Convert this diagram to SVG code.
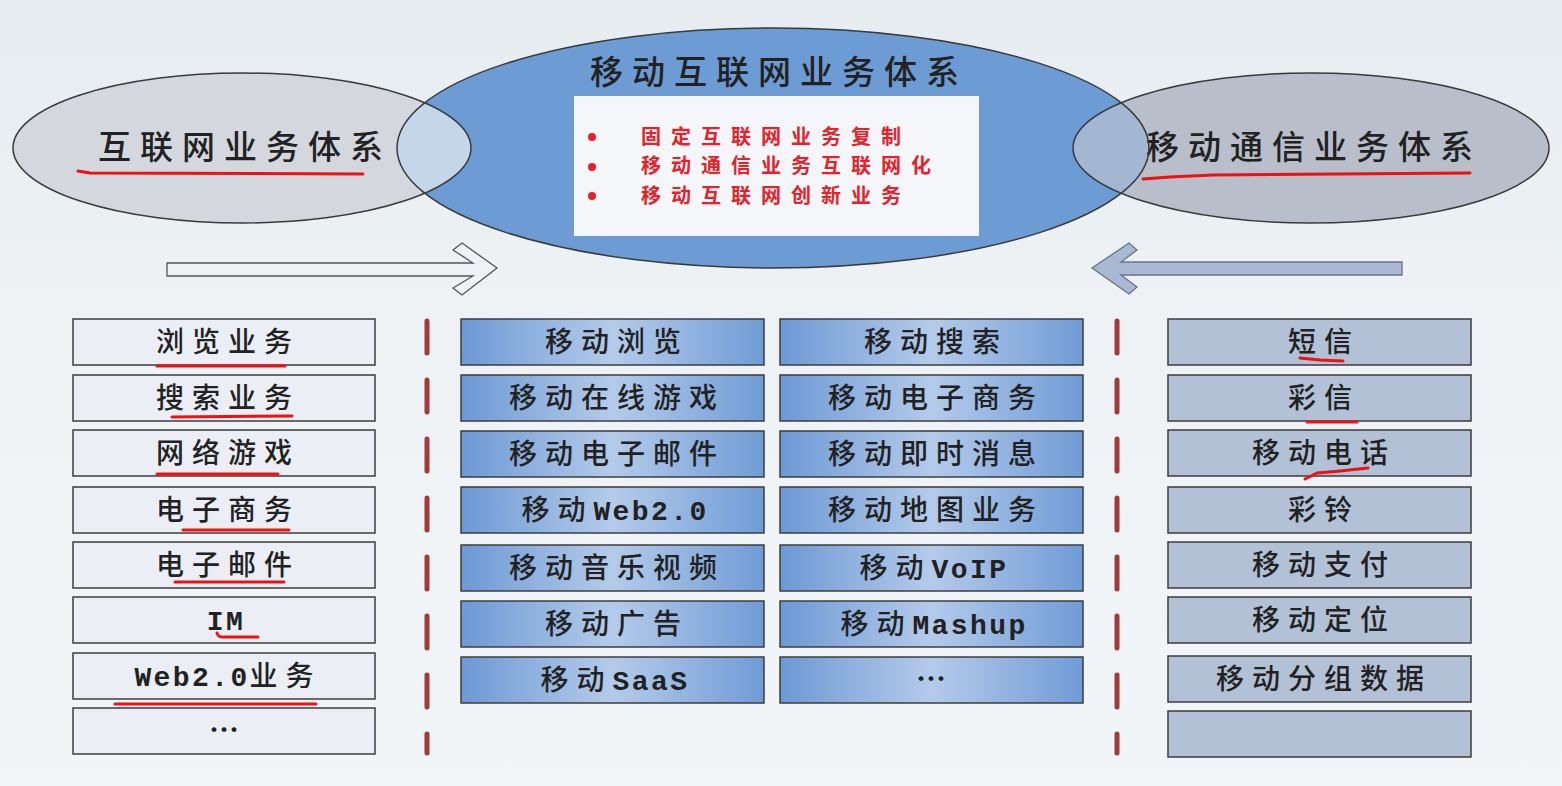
<svg xmlns="http://www.w3.org/2000/svg" width="1562" height="786" viewBox="0 0 1562 786">
<defs>
<linearGradient id="bg" x1="0" y1="0" x2="0" y2="1">
<stop offset="0" stop-color="#e6ecf0"/>
<stop offset="0.4" stop-color="#eef2f5"/>
<stop offset="1" stop-color="#f3f6f8"/>
</linearGradient>
<linearGradient id="mid" x1="0" y1="0" x2="1" y2="0">
<stop offset="0" stop-color="#6d99d4"/>
<stop offset="0.5" stop-color="#b4cbea"/>
<stop offset="1" stop-color="#709cd6"/>
</linearGradient>
<clipPath id="cC"><ellipse cx="773" cy="148" rx="376" ry="120"/></clipPath>
<style>
.t{font-family:"Noto Sans CJK SC","Noto Sans",sans-serif;fill:#222;text-anchor:middle;font-weight:500}
.bx{font-size:28px;letter-spacing:8px}
.lat{font-family:"Liberation Mono",monospace;font-weight:bold;letter-spacing:2.4px}
.dots{font-size:30px;letter-spacing:0;font-weight:bold}
.lb{fill:#eceef6;stroke:#3c3c3c;stroke-width:1.5}
.mb{fill:url(#mid);stroke:#3c3c3c;stroke-width:1.5}
.rb{fill:#b3c1d6;stroke:#3c3c3c;stroke-width:1.5}
.ul{fill:none;stroke:#ee1111;stroke-width:3;stroke-linecap:round;stroke-linejoin:round}
.ttl{font-size:33px;letter-spacing:9px}
.red{font-size:20px;letter-spacing:10px;fill:#e5222a;text-anchor:start;font-weight:bold}
.dash{stroke:#a23a3a;stroke-width:5;stroke-dasharray:32 27;stroke-linecap:round;fill:none}
.es{fill:none;stroke:#3a3a3a;stroke-width:1.5}
</style>
</defs>
<rect width="1562" height="786" fill="url(#bg)"/>

<g id="ellipses">
<g id="center-system">
<ellipse cx="773" cy="148" rx="376" ry="120" fill="#6d9bd3"/>
</g>
<g id="internet-system">
<ellipse cx="242" cy="148" rx="229" ry="75" fill="#d4d7dd"/>
<ellipse cx="242" cy="148" rx="229" ry="75" fill="#c6d6ea" clip-path="url(#cC)"/>
<ellipse cx="242" cy="148" rx="229" ry="75" class="es"/>
<text class="t ttl" x="245" y="159">互联网业务体系</text>
</g>
<g id="mobile-comm-system">
<ellipse cx="1311" cy="148" rx="238" ry="75" fill="#b8bfcb"/>
<ellipse cx="1311" cy="148" rx="238" ry="75" fill="#a3b6d2" clip-path="url(#cC)"/>
<ellipse cx="1311" cy="148" rx="238" ry="75" class="es"/>
<text class="t ttl" x="1314" y="159">移动通信业务体系</text>
</g>
<g id="center-outline">
<ellipse cx="773" cy="148" rx="376" ry="120" class="es"/>
<text class="t ttl" x="779" y="84">移动互联网业务体系</text>
<rect x="574" y="96" width="405" height="140" fill="#f4f6fa"/>
<circle cx="592" cy="137" r="4" fill="#e5222a"/>
<circle cx="592" cy="167" r="4" fill="#e5222a"/>
<circle cx="592" cy="196" r="4" fill="#e5222a"/>
<text class="t red" x="641" y="143.5">固定互联网业务复制</text>
<text class="t red" x="641" y="173">移动通信业务互联网化</text>
<text class="t red" x="641" y="202.5">移动互联网创新业务</text>
</g>
</g>

<g id="connectors">
<polygon points="167,263 473,263 453,250 462,243 497,268 462,295 453,288 473,276 167,276" fill="#eef2f7" stroke="#555" stroke-width="1.3"/>
<polygon points="1402,262 1121,262 1137,250 1129,243 1092,268 1129,294 1137,287 1121,275 1402,275" fill="#a9b9d3" stroke="#6a7385" stroke-width="1.3"/>
<line class="dash" x1="427" y1="321" x2="427" y2="753"/>
<line class="dash" x1="1117" y1="321" x2="1117" y2="753"/>
</g>

<g id="left-column">
<g id="l1"><rect class="lb" x="73" y="319" width="302" height="46"/><text class="t bx" x="228" y="352">浏览业务</text></g>
<g id="l2"><rect class="lb" x="73" y="375" width="302" height="46"/><text class="t bx" x="228" y="408">搜索业务</text></g>
<g id="l3"><rect class="lb" x="73" y="430" width="302" height="46"/><text class="t bx" x="228" y="463">网络游戏</text></g>
<g id="l4"><rect class="lb" x="73" y="487" width="302" height="46"/><text class="t bx" x="228" y="520">电子商务</text></g>
<g id="l5"><rect class="lb" x="73" y="542" width="302" height="46"/><text class="t bx" x="228" y="575">电子邮件</text></g>
<g id="l6"><rect class="lb" x="73" y="597" width="302" height="46"/><text class="t bx" x="226" y="630"><tspan class="lat">IM</tspan></text></g>
<g id="l7"><rect class="lb" x="73" y="653" width="302" height="46"/><text class="t bx" x="228" y="686"><tspan class="lat">Web2.0</tspan>业务</text></g>
<g id="l8"><rect class="lb" x="73" y="708" width="302" height="46"/><text class="t bx dots" x="224" y="741">…</text></g>
</g>

<g id="middle-left-column">
<g id="m1"><rect class="mb" x="461" y="319" width="303" height="46"/><text class="t bx" x="617" y="352">移动浏览</text></g>
<g id="m2"><rect class="mb" x="461" y="375" width="303" height="46"/><text class="t bx" x="617" y="408">移动在线游戏</text></g>
<g id="m3"><rect class="mb" x="461" y="431" width="303" height="46"/><text class="t bx" x="617" y="464">移动电子邮件</text></g>
<g id="m4"><rect class="mb" x="461" y="487" width="303" height="46"/><text class="t bx" x="615" y="520">移动<tspan class="lat">Web2.0</tspan></text></g>
<g id="m5"><rect class="mb" x="461" y="545" width="303" height="46"/><text class="t bx" x="617" y="578">移动音乐视频</text></g>
<g id="m6"><rect class="mb" x="461" y="601" width="303" height="46"/><text class="t bx" x="617" y="634">移动广告</text></g>
<g id="m7"><rect class="mb" x="461" y="657" width="303" height="46"/><text class="t bx" x="615" y="690">移动<tspan class="lat">SaaS</tspan></text></g>
</g>

<g id="middle-right-column">
<g id="n1"><rect class="mb" x="780" y="319" width="303" height="46"/><text class="t bx" x="936" y="352">移动搜索</text></g>
<g id="n2"><rect class="mb" x="780" y="375" width="303" height="46"/><text class="t bx" x="936" y="408">移动电子商务</text></g>
<g id="n3"><rect class="mb" x="780" y="431" width="303" height="46"/><text class="t bx" x="936" y="464">移动即时消息</text></g>
<g id="n4"><rect class="mb" x="780" y="487" width="303" height="46"/><text class="t bx" x="936" y="520">移动地图业务</text></g>
<g id="n5"><rect class="mb" x="780" y="545" width="303" height="46"/><text class="t bx" x="934" y="578">移动<tspan class="lat">VoIP</tspan></text></g>
<g id="n6"><rect class="mb" x="780" y="601" width="303" height="46"/><text class="t bx" x="934" y="634">移动<tspan class="lat">Mashup</tspan></text></g>
<g id="n7"><rect class="mb" x="780" y="657" width="303" height="46"/><text class="t bx dots" x="931" y="690">…</text></g>
</g>

<g id="right-column">
<g id="r1"><rect class="rb" x="1168" y="319" width="303" height="46"/><text class="t bx" x="1324" y="352">短信</text></g>
<g id="r2"><rect class="rb" x="1168" y="375" width="303" height="46"/><text class="t bx" x="1324" y="408">彩信</text></g>
<g id="r3"><rect class="rb" x="1168" y="430" width="303" height="46"/><text class="t bx" x="1324" y="463">移动电话</text></g>
<g id="r4"><rect class="rb" x="1168" y="487" width="303" height="46"/><text class="t bx" x="1324" y="520">彩铃</text></g>
<g id="r5"><rect class="rb" x="1168" y="542" width="303" height="46"/><text class="t bx" x="1324" y="575">移动支付</text></g>
<g id="r6"><rect class="rb" x="1168" y="597" width="303" height="46"/><text class="t bx" x="1324" y="630">移动定位</text></g>
<g id="r7"><rect class="rb" x="1168" y="656" width="303" height="46"/><text class="t bx" x="1324" y="689">移动分组数据</text></g>
<g id="r8"><rect class="rb" x="1168" y="711" width="303" height="46"/></g>
</g>

<g id="annotations">
<path class="ul" d="M78,171 L90,173 L363,174"/>
<path class="ul" d="M1143,179 L1170,177 L1213,175 L1470,173"/>
<path class="ul" d="M157,366 L285,366"/>
<path class="ul" d="M172,417 L292,416"/>
<path class="ul" d="M157,474 L278,474"/>
<path class="ul" d="M183,530 L289,530"/>
<path class="ul" d="M175,582 L284,582"/>
<path class="ul" d="M217,633 Q218,637 222,637 L258,637"/>
<path class="ul" d="M115,704 L316,704"/>
<path class="ul" d="M1300,358 L1320,360 L1343,361"/>
<path class="ul" d="M1307,422 L1357,422"/>
<path class="ul" d="M1305,479 L1317,473 L1340,471 L1368,468"/>
</g>
</svg>
